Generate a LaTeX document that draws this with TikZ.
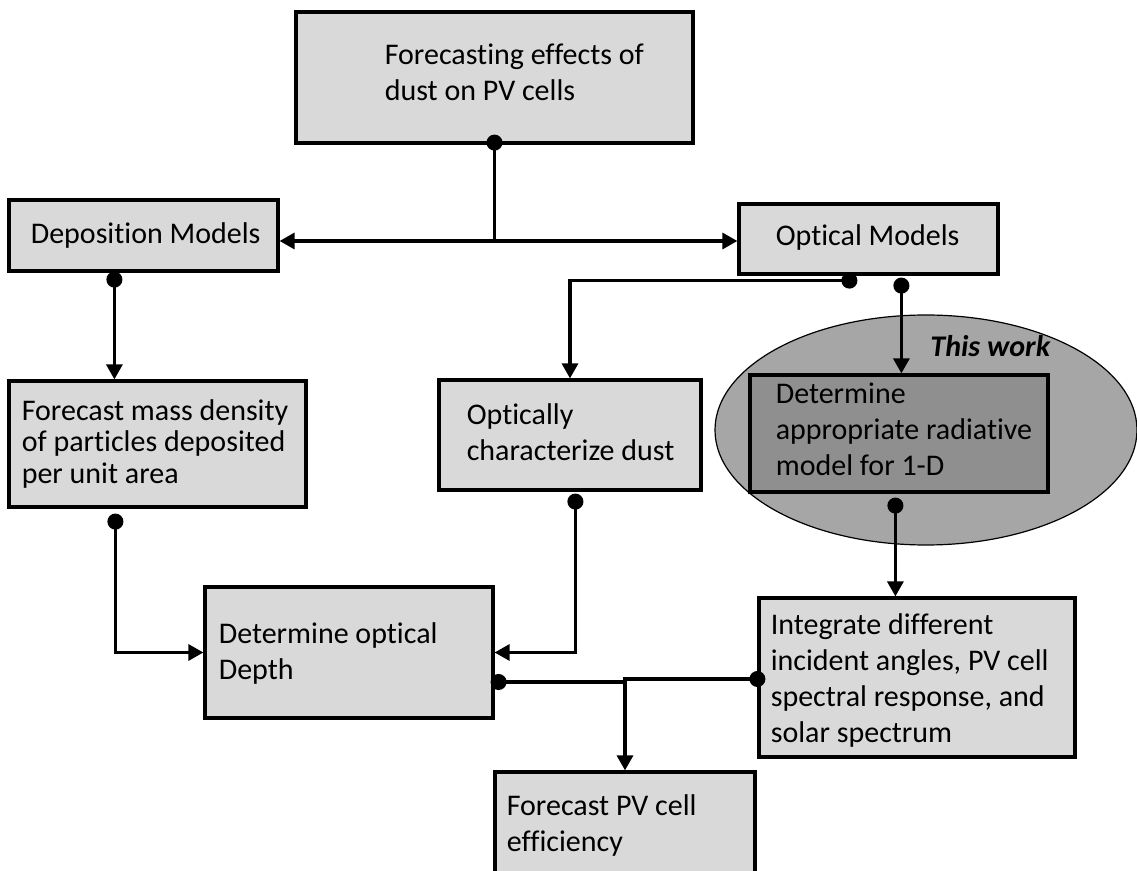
\documentclass[tikz,border=0pt]{standalone}
\usepackage{fontspec}
\setmainfont{Carlito}[Ligatures=NoCommon]
\usetikzlibrary{shapes.geometric,positioning,calc,arrows.meta}
\definecolor{panelgray}{HTML}{D9D9D9}
\definecolor{workgray}{HTML}{A6A6A6}
\definecolor{radgray}{HTML}{8F8F8F}

\begin{document}
\begin{tikzpicture}[x=0.5pt,y=-0.5pt,
    panel/.style={draw,line width=1.6pt,fill=panelgray,inner sep=0pt},
    txt/.style={inner sep=0pt,align=left,font={\fontsize{15pt}{18pt}\selectfont}},
    dotarrow/.style={line width=1.6pt,{Circle[length=8pt]}-{Triangle[length=7.5pt,width=8pt]}},
    dotline/.style={line width=1.6pt,{Circle[length=8pt]}-},
    arrowline/.style={line width=1.6pt,-{Triangle[length=7.5pt,width=8pt]}}]

    \useasboundingbox (0,0) rectangle (1137,871);

    % the part this work covers
    \node[ellipse,draw,line width=0.6pt,fill=workgray,minimum width=211pt,minimum height=115pt] (workarea) at (926,430) {};
    \node[inner sep=0pt,anchor=base west,font={\fontsize{15pt}{18pt}\selectfont\bfseries\itshape}] (thiswork) at (930,357) {This work};

    \node[panel,minimum width=198.5pt,minimum height=65.5pt] (goal) at (494.5,77.5) {};
    \node[txt,right=45pt of goal.west,yshift=2.5pt] (goaltxt) {Forecasting effects of\\dust on PV cells};

    \node[panel,minimum width=134.5pt,minimum height=35.5pt] (dep) at (143.5,235.5) {};
    \node[txt,right=11.5pt of dep.west] (deptxt) {Deposition Models};

    \node[panel,minimum width=129.5pt,minimum height=35pt] (opt) at (868.5,239) {};
    \node[txt,right=19pt of opt.west,yshift=0.75pt] (opttxt) {Optical Models};

    \node[panel,minimum width=148.5pt,minimum height=63pt] (mass) at (157.5,444) {};
    \node[txt,font={\fontsize{15pt}{15.8pt}\selectfont},right=7pt of mass.west] (masstxt) {Forecast mass density\\of particles deposited\\per unit area};

    \node[panel,minimum width=131pt,minimum height=55pt] (char) at (570,435) {};
    \node[txt,right=14.5pt of char.west,yshift=1.5pt] (chartxt) {Optically\\characterize dust};

    \node[panel,fill=radgray,minimum width=149pt,minimum height=58.5pt] (rad) at (899,433.5) {};
    \node[txt,right=13.5pt of rad.west,yshift=2.25pt] (radtxt) {Determine\\appropriate radiative\\model for 1-D};

    \node[panel,minimum width=144pt,minimum height=65.5pt] (depth) at (349,652.5) {};
    \node[txt,right=7.5pt of depth.west,yshift=-0.75pt] (depthtxt) {Determine optical\\Depth};

    \node[panel,minimum width=158pt,minimum height=79.5pt] (integ) at (917,677.5) {};
    \node[txt,right=6.5pt of integ.west,yshift=-1.5pt] (integtxt) {Integrate different\\incident angles, PV cell\\spectral response, and\\solar spectrum};

    \node[panel,minimum width=130pt,minimum height=54pt] (eff) at (625,826) {};
    \node[txt,right=6.5pt of eff.west] (efftxt) {Forecast PV cell\\efficiency};

    % connectors
    \coordinate (fork) at (goal.south |- 0,241);
    \draw[dotline] ([yshift=5pt]goal.south) -- (fork);
    \draw[arrowline] (fork) -- (fork -| dep.east);
    \draw[arrowline] (fork) -- (fork -| opt.west);

    \draw[dotarrow] ($(dep.south west)+(107,-1)$) coordinate (d1) -- (d1 |- mass.north);
    \draw[dotarrow] ($(opt.south west)+(120,5)$) -| (char.north);
    \draw[dotarrow] ($(opt.south west)+(164,2)$) coordinate (o2) -- (o2 |- rad.north);

    \draw[dotarrow] ($(mass.south west)+(108,5)$) |- (depth.west);
    \draw[dotarrow] ($(char.south west)+(138,2)$) |- (depth.east);
    \draw[dotarrow] ($(rad.south west)+(147,4)$) coordinate (r1) -- (r1 |- integ.north);

    \draw[dotline] ($(depth.east)+(-4,29.5)$) coordinate (p1) -- (p1 -| eff.north);
    \draw[dotarrow] ($(integ.west)+(8,1.5)$) -| (eff.north);

\end{tikzpicture}
\end{document}
